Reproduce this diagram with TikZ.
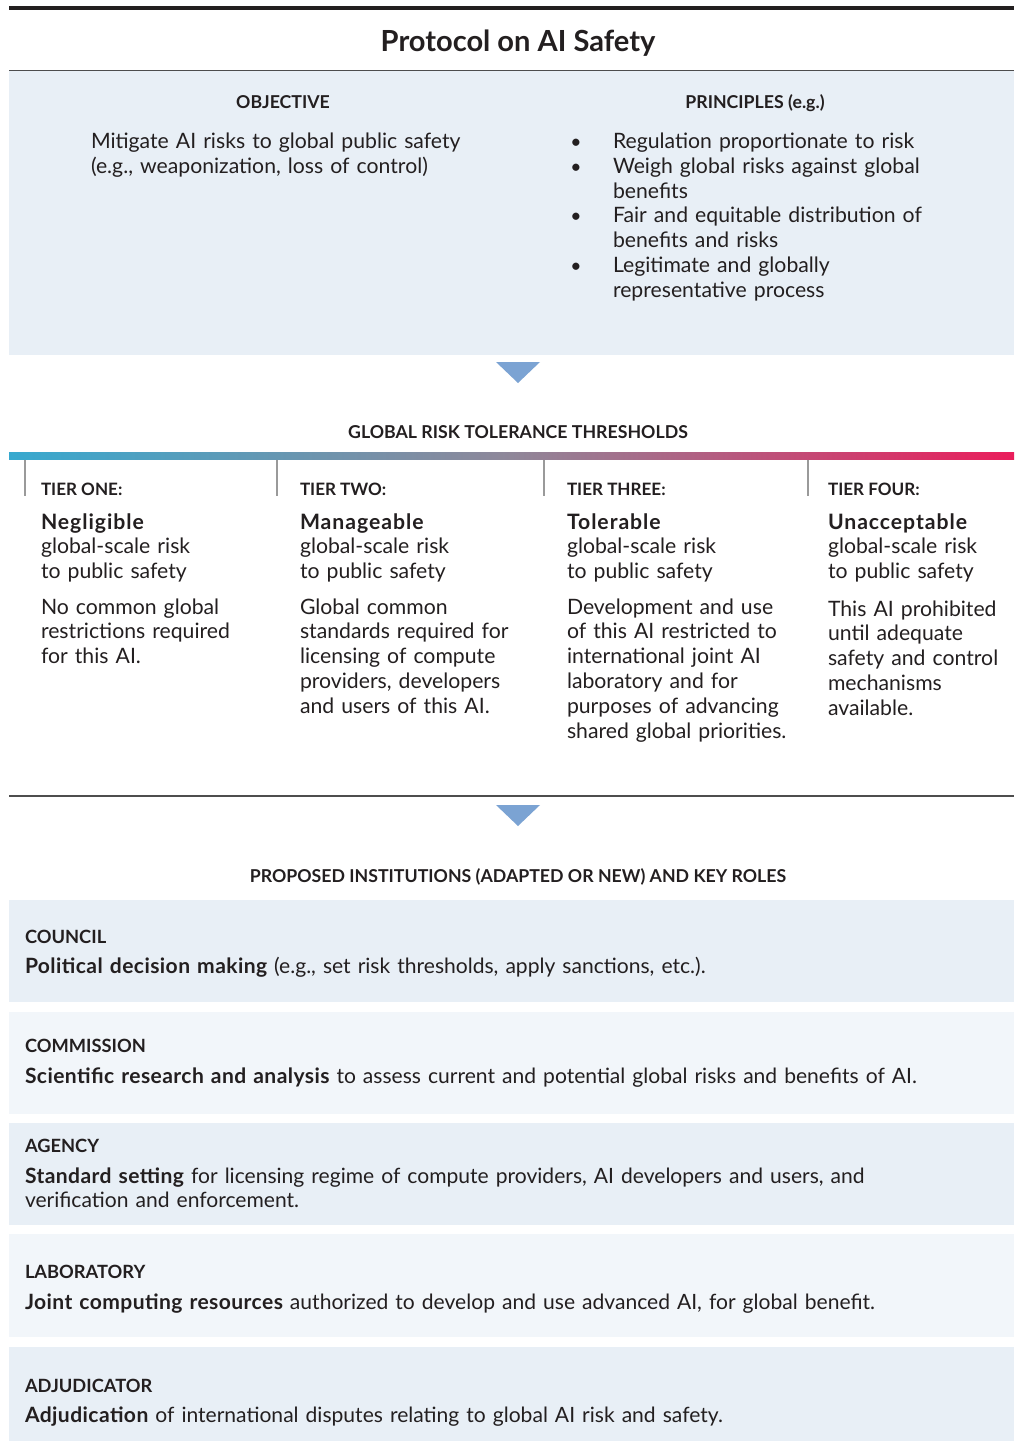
\documentclass[tikz,border=0pt]{standalone}
\usepackage{fontspec}
\setmainfont{Lato}
\definecolor{ink}{HTML}{231F20}
\definecolor{boxA}{HTML}{E8EFF6}
\definecolor{boxB}{HTML}{F2F6FA}
\definecolor{tri}{HTML}{7BA3D3}
\definecolor{gA}{HTML}{37A9CF}
\definecolor{gM}{HTML}{8F8799}
\definecolor{gB}{HTML}{EA1D5B}
\definecolor{rulecol}{HTML}{4D4D4D}
\definecolor{divcol}{HTML}{9A9A9A}
\newcommand{\bw}[1]{{\bfseries\addfontfeature{LetterSpace=4.5}#1}}
\newcommand{\bi}[1]{{\bfseries\addfontfeature{LetterSpace=2}#1}}
\begin{document}
\begin{tikzpicture}[x=0.75pt,y=-0.75pt,
  every node/.style={inner sep=0pt,outer sep=0pt,text=ink},
  bodytext/.style={font=\fontsize{15.9}{18.6}\selectfont,anchor=base west,align=left,text width=#1},
  bodytext/.default=220pt,
  insttext/.style={font=\fontsize{15.8}{18.6}\selectfont,anchor=base west,align=left,text width=740pt},
  headtext/.style={font=\bfseries\fontsize{13.3}{15}\selectfont,anchor=base},
  labeltext/.style={font=\bfseries\fontsize{13.7}{15}\selectfont,anchor=base west},
  tiertext/.style={font=\bfseries\fontsize{12.8}{15}\selectfont,anchor=base west},
  bullettext/.style={font=\fontsize{14.5}{18.6}\selectfont,anchor=base},
  marker/.style={fill=tri,draw=none},
]
\useasboundingbox (0,0) rectangle (1014,1441);
\fill[white] (0,0) rectangle (1014,1441);

% title
\draw[ink,line width=3pt] (9,8.5) -- (1014,8.5);
\node[font=\bfseries\fontsize{21.8}{24}\selectfont,anchor=base] (title) at (518,52) {Protocol on AI Safety};
\fill[boxA] (9,71) rectangle (1014,355);
\draw[rulecol,line width=1pt] (9,70.5) -- (1014,70.5);

% objective / principles
\node[headtext] (objh) at (283,109) {OBJECTIVE};
\node[headtext] (prih) at (755,109) {PRINCIPLES (e.g.)};
\node[bodytext=300pt] (obj) at (91,148.5) {Mitigate AI risks to global public safety\\(e.g., weaponization, loss of control)};
\node[bullettext] (b1) at (576,148.5) {•};
\node[bullettext] (b2) at (576,173.3) {•};
\node[bullettext] (b3) at (576,222.9) {•};
\node[bullettext] (b4) at (576,272.5) {•};
\node[bodytext=280pt] (p1) at (613,148.5) {Regulation proportionate to risk};
\node[bodytext=280pt] (p2) at (613,173.3) {Weigh global risks against global\\benefits};
\node[bodytext=280pt] (p3) at (613,222.9) {Fair and equitable distribution of\\benefits and risks};
\node[bodytext=280pt] (p4) at (613,272.5) {Legitimate and globally\\representative process};

% arrow 1
\fill[marker] (496,362) -- (540,362) -- (518,383) -- cycle;

% thresholds
\node[headtext] (thrh) at (518,438) {GLOBAL RISK TOLERANCE THRESHOLDS};
\shade[left color=gA,right color=gB,middle color=gM] (9,452) rectangle (1014,459.5);
\foreach \xx in {25,277,544,808} \draw[divcol,line width=0.8pt] (\xx,459.5) -- (\xx,496);

\node[tiertext] (t1h) at (41,495) {TIER ONE:};
\node[tiertext] (t2h) at (300,495) {TIER TWO:};
\node[tiertext] (t3h) at (567,495) {TIER THREE:};
\node[tiertext] (t4h) at (828,495) {TIER FOUR:};

\node[bodytext] (t1a) at (41,529) {\bw{Negligible}\\global-scale risk\\to public safety};
\node[bodytext] (t2a) at (300,529) {\bw{Manageable}\\global-scale risk\\to public safety};
\node[bodytext] (t3a) at (567,529) {\bw{Tolerable}\\global-scale risk\\to public safety};
\node[bodytext] (t4a) at (828,529) {\bw{Unacceptable}\\global-scale risk\\to public safety};

\node[bodytext] (t1b) at (41,614) {No common global\\restrictions required\\for this AI.};
\node[bodytext] (t2b) at (300,614) {Global common\\standards required for\\licensing of compute\\providers, developers\\and users of this AI.};
\node[bodytext] (t3b) at (567,614) {Development and use\\of this AI restricted to\\international joint AI\\laboratory and for\\purposes of advancing\\shared global priorities.};
\node[bodytext] (t4b) at (828,616) {This AI prohibited\\until adequate\\safety and control\\mechanisms\\available.};

\draw[rulecol,line width=1pt] (9,796) -- (1014,796);
\fill[marker] (496,805) -- (540,805) -- (518,826) -- cycle;

% institutions
\node[headtext] (insth) at (518,882) {PROPOSED INSTITUTIONS (ADAPTED OR NEW) AND KEY ROLES};

\fill[boxA] (9,900) rectangle (1014,1002);
\fill[boxB] (9,1012) rectangle (1014,1114);
\fill[boxA] (9,1123) rectangle (1014,1225);
\fill[boxB] (9,1234) rectangle (1014,1337);
\fill[boxA] (9,1347) rectangle (1014,1441);

\node[labeltext] (c1) at (25,943) {COUNCIL};
\node[insttext] (c1t) at (25,973) {\bi{Political decision making} (e.g., set risk thresholds, apply sanctions, etc.).};
\node[labeltext] (c2) at (25,1052) {COMMISSION};
\node[insttext] (c2t) at (25,1083) {\bi{Scientific research and analysis} to assess current and potential global risks and benefits of AI.};
\node[labeltext] (c3) at (25,1152) {AGENCY};
\node[insttext] (c3t) at (25,1183) {\bi{Standard setting} for licensing regime of compute providers, AI developers and users, and\\verification and enforcement.};
\node[labeltext] (c4) at (25,1278) {LABORATORY};
\node[insttext] (c4t) at (25,1309) {\bi{Joint computing resources} authorized to develop and use advanced AI, for global benefit.};
\node[labeltext] (c5) at (25,1392) {ADJUDICATOR};
\node[insttext] (c5t) at (25,1422) {\bi{Adjudication} of international disputes relating to global AI risk and safety.};
\end{tikzpicture}
\end{document}
